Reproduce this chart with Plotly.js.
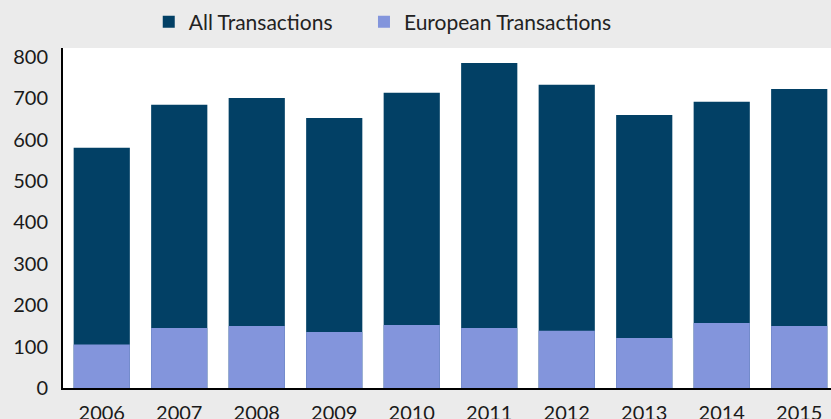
<!DOCTYPE html>
<html><head><meta charset="utf-8">
<script src="https://cdn.plot.ly/plotly-3.0.1.min.js"></script>
<style>html,body{margin:0;padding:0;background:#ebebeb;}</style>
</head><body>
<div id="chart" style="width:831px;height:419px;"></div>
<script>
const years = ['2006','2007','2008','2009','2010','2011','2012','2013','2014','2015'];
const allTransactions = [580, 684, 700, 652, 713, 785, 732, 659, 691, 722];
const europeanTransactions = [105, 145, 150, 135, 152, 145, 138, 121, 157, 150];
const yTicks = [0,100,200,300,400,500,600,700,800];

const font = {family: 'Lato, "Open Sans", sans-serif', size: 20, color: '#1a1a1a'};
const legendFont = {family: font.family, size: 21, color: '#222'};

const traces = [
  {type:'bar', name:'All Transactions', x: years, y: allTransactions, marker:{color:'#024065'}, legend:'legend'},
  {type:'bar', name:'European Transactions', x: years, y: europeanTransactions, marker:{color:'#8395dc'}, legend:'legend2'}
];

const legendBase = {orientation:'h', xref:'container', yref:'container', xanchor:'left', y:0.947, yanchor:'middle',
                    font:legendFont, bgcolor:'rgba(0,0,0,0)', itemclick:false};

const layout = {
  width: 831, height: 419,
  paper_bgcolor:'#ebebeb', plot_bgcolor:'#ffffff',
  margin:{l:63, r:0, t:48, b:31, pad:0},
  barmode:'overlay', bargap:0.275,
  font: font,
  showlegend:true,
  legend: Object.assign({}, legendBase, {x:0.179}),
  legend2: Object.assign({}, legendBase, {x:0.438}),
  xaxis:{type:'category', range:[-0.5, 9.41], showline:true, linecolor:'#000', linewidth:2, showgrid:false,
         ticks:'', tickfont:font, ticklabelstandoff:6, fixedrange:true},
  yaxis:{range:[0, 821], tickvals:yTicks, ticktext:yTicks.map(String), showline:true, linecolor:'#000', linewidth:2,
         showgrid:false, zeroline:false, ticks:'', tickfont:font, ticklabelstandoff:9, fixedrange:true}
};

Plotly.newPlot('chart', traces, layout, {displayModeBar:false, staticPlot:true});
</script>
</body></html>
